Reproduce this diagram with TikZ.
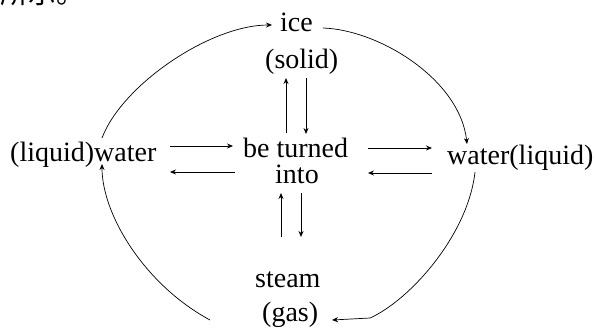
\documentclass[tikz,border=0pt]{standalone}
\usepackage{fontspec}
\setmainfont{Liberation Serif}
\newfontfamily\cjk{Noto Sans CJK SC}
\usetikzlibrary{arrows.meta}
\tikzset{
  lbl/.style={inner sep=0pt, font=\fontsize{28}{30}\selectfont},
  arr/.style={line width=0.8pt, -{Stealth[length=6pt,width=5pt]}},
  crv/.style={line width=0.7pt, -{Stealth[length=6pt,width=5pt]}},
}
\begin{document}
\begin{tikzpicture}[x=1pt,y=-1pt]
\useasboundingbox (0,0) rectangle (596,329);
\clip (0,0) rectangle (596,329);
\fill[white] (0,0) rectangle (596,329);
% cropped caption fragment
\node[inner sep=0pt, anchor=base west, font=\cjk\fontsize{28}{28}\selectfont] (cn) at (0,4) {所示。};
% labels
\node[lbl, anchor=base west] (ice) at (280,32) {ice};
\node[lbl, anchor=base west] (solid) at (265,68) {(solid)};
\node[lbl, anchor=base west] (bt) at (243,157) {be turned};
\node[lbl, anchor=base west] (into) at (275,183) {into};
\node[lbl, anchor=base west] (steam) at (255,287) {steam};
\node[lbl, anchor=base west] (gas) at (262,321) {(gas)};
\node[lbl, anchor=base west] (lw) at (10,161) {(liquid)water};
\node[lbl, anchor=base west] (wl) at (447,164) {water(liquid)};
% vertical arrow ends
\coordinate (u1a) at (286,133); \coordinate (u1b) at (286,78);
\coordinate (d1a) at (306,78);  \coordinate (d1b) at (306,134);
\coordinate (u2a) at (281,237); \coordinate (u2b) at (281,193);
\coordinate (d2a) at (301,193); \coordinate (d2b) at (301,237);
% horizontal arrow ends
\coordinate (l1a) at (170,146); \coordinate (l1b) at (233,146);
\coordinate (l2a) at (235,172); \coordinate (l2b) at (170,172);
\coordinate (r1a) at (368,148); \coordinate (r1b) at (432,148);
\coordinate (r2a) at (432,173); \coordinate (r2b) at (368,173);
\draw[arr] (u1a) -- (u1b);
\draw[arr] (d1a) -- (d1b);
\draw[arr] (u2a) -- (u2b);
\draw[arr] (d2a) -- (d2b);
\draw[arr] (l1a) -- (l1b);
\draw[arr] (l2a) -- (l2b);
\draw[arr] (r1a) -- (r1b);
\draw[arr] (r2a) -- (r2b);
% curved arrows
\coordinate (c1a) at (102,138); \coordinate (c1b) at (272,25);
\coordinate (c2a) at (323,28);  \coordinate (c2b) at (467,144);
\coordinate (c3a) at (475,172); \coordinate (c3m) at (370,318); \coordinate (c3b) at (332,320);
\coordinate (c4a) at (210,320); \coordinate (c4b) at (102,164);
\draw[crv] (c1a) .. controls (122,85) and (210,25) .. (c1b);
\draw[crv] (c2a) .. controls (380,30) and (460,80) .. (c2b);
\draw[crv] (c3a) .. controls (468,235) and (410,300) .. (c3m) -- (c3b);
\draw[crv] (c4a) .. controls (145,285) and (102,215) .. (c4b);
\end{tikzpicture}
\end{document}
